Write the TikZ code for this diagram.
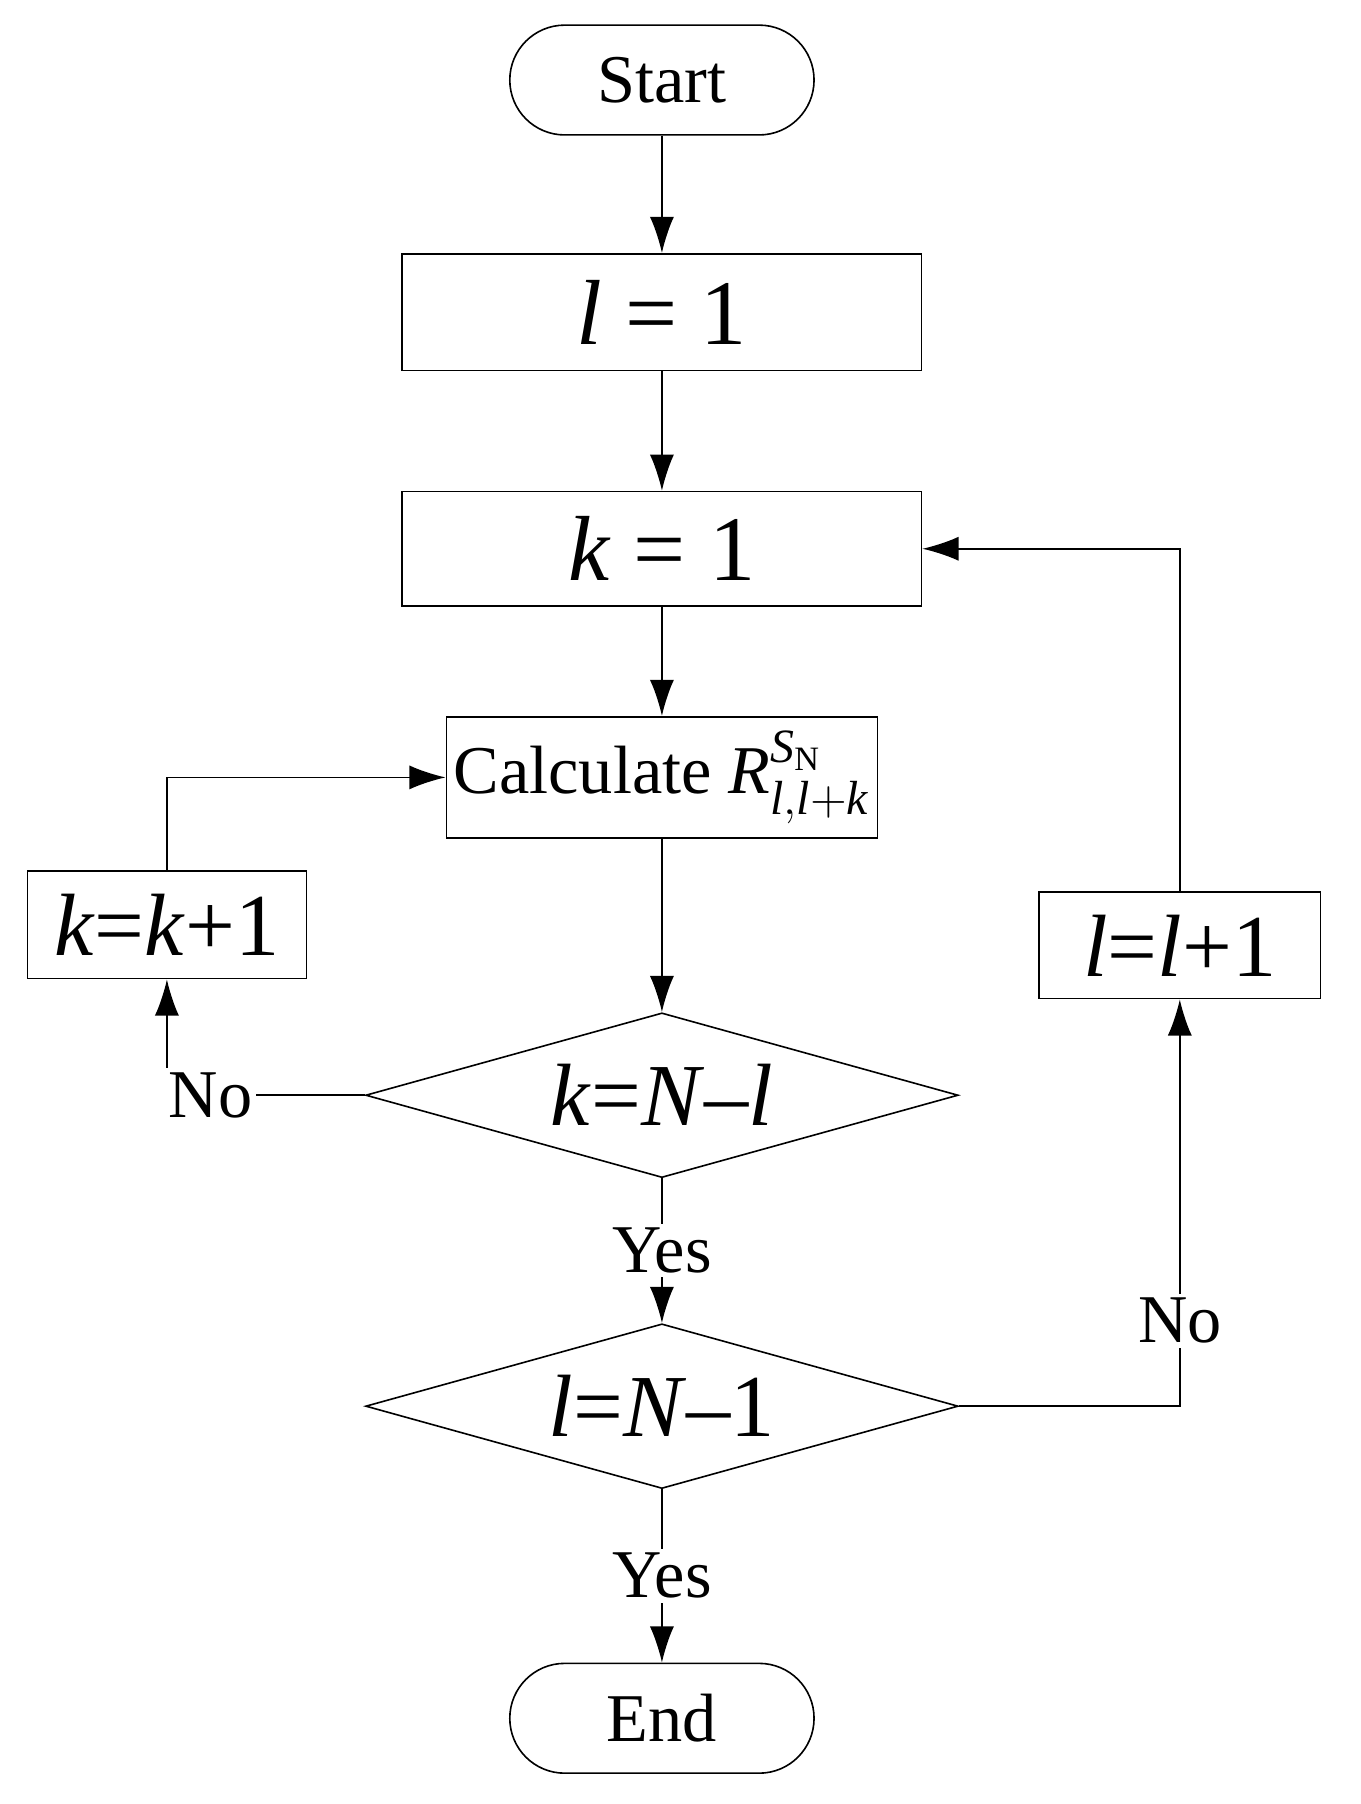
\documentclass[tikz,border=0pt]{standalone}
\usepackage{amsmath}
\usepackage{fontspec}
\setmainfont{Liberation Serif}
\usetikzlibrary{shapes.geometric,arrows.meta}
\newcommand{\vi}[1]{\textit{#1}}

\begin{document}
\begin{tikzpicture}[x=0.01cm,y=-0.01cm,
    >={Latex[length=9pt,width=6pt]},
    box/.style={draw,thin,rectangle,inner sep=0pt},
    term/.style={draw,thin,rectangle,rounded corners=0.48cm,inner sep=0pt,minimum width=2.66cm,minimum height=0.96cm,font=\fontsize{17}{20}\selectfont},
    cond/.style={draw,thin,diamond,aspect=3.6,inner sep=0pt,minimum width=5.18cm,minimum height=1.44cm,font=\fontsize{22}{26}\selectfont},
    lbl/.style={fill=white,inner sep=1pt,font=\fontsize{17}{20}\selectfont}]
  \useasboundingbox (0,0) rectangle (1190,1578);
  \node[term] (start) at (579,70) {Start};
  \node[box,minimum width=4.54cm,minimum height=1.02cm,font=\fontsize{23}{28}\selectfont] (l1) at (579,273) {\vi{l} = 1};
  \node[box,minimum width=4.54cm,minimum height=1.0cm,font=\fontsize{23}{28}\selectfont] (k1) at (579,480) {\vi{k} = 1};
  \node[box,minimum width=3.77cm,minimum height=1.06cm,font=\fontsize{17}{20}\selectfont] (calc) at (579,680)
    {Calculate \vi{R}$_{\textit{l},\textit{l}+\textit{k}}^{\textit{S}_{\textup{N}}}$};
  \node[box,minimum width=2.44cm,minimum height=0.94cm,font=\fontsize{22}{26}\selectfont] (kk) at (146,809) {\vi{k}=\vi{k}+1};
  \node[box,minimum width=2.46cm,minimum height=0.93cm,font=\fontsize{22}{26}\selectfont] (ll) at (1032,827) {\vi{l}=\vi{l}+1};
  \node[cond] (d1) at (579,958) {\vi{k}=\vi{N}--\vi{l}};
  \node[cond] (d2) at (579,1230) {\vi{l}=\vi{N}--1};
  \node[term] (end) at (579,1503) {End};

  \draw[->] (start) -- (l1);
  \draw[->] (l1) -- (k1);
  \draw[->] (k1) -- (calc);
  \draw[->] (calc) -- (d1);
  \draw[->] (d1) -- node[lbl,pos=0.5] {Yes} (d2);
  \draw[->] (d2) -- node[lbl,pos=0.5] {Yes} (end);
  \draw[->] (d1.west) -| node[lbl,pos=0.39] {No} (kk.south);
  \draw[->] (kk.north) |- (calc.west);
  \draw[->] (d2.east) -| node[lbl,pos=0.605] {No} (ll.south);
  \draw[->] (ll.north) |- (k1.east);
\end{tikzpicture}
\end{document}
